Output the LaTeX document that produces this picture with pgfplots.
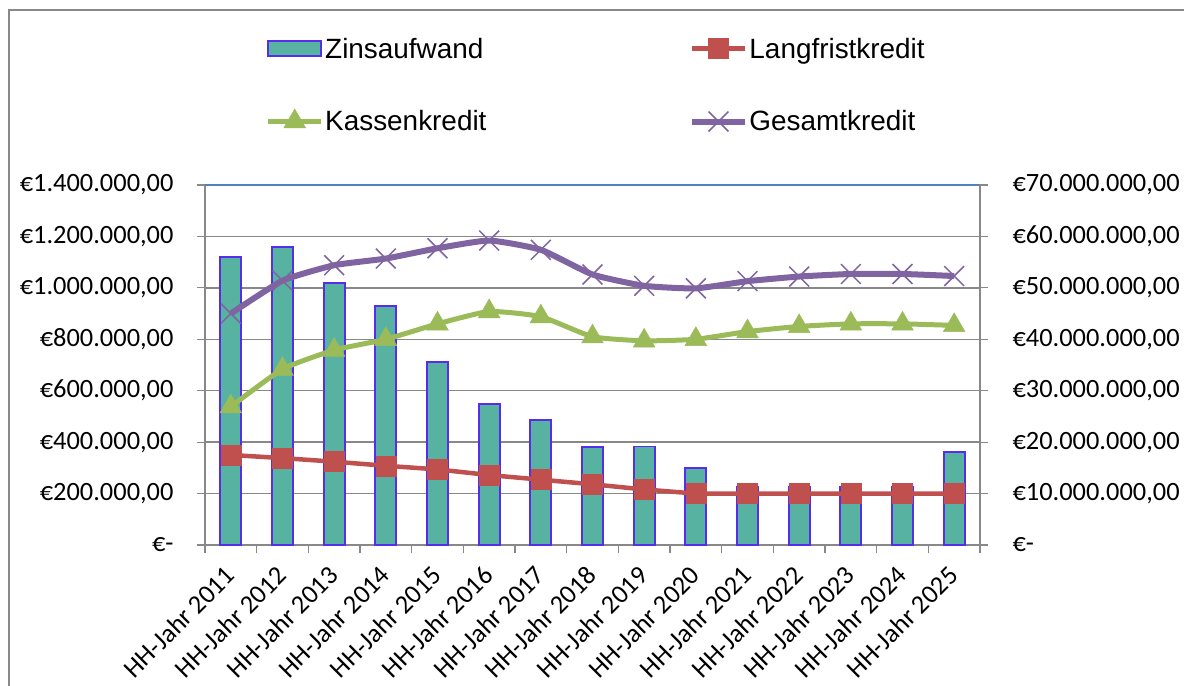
\documentclass[border=0pt]{standalone}
\usepackage{pgfplots}
\usepackage{pgfplotstable}
\pgfplotsset{compat=1.18}
\usepackage{fontspec}
\setmainfont{Liberation Sans}
\newfontfamily\calibri{Carlito}

\definecolor{barfill}{RGB}{87,178,162}
\definecolor{baredge}{RGB}{85,45,235}
\definecolor{lred}{RGB}{192,80,77}
\definecolor{lgreen}{RGB}{155,187,89}
\definecolor{lpurple}{RGB}{128,100,162}
\definecolor{gridgray}{RGB}{136,136,136}
\definecolor{topblue}{RGB}{79,129,189}

\pgfplotsset{
  barlegend/.style={legend image code/.code={\draw[##1] (0bp,-7.5bp) rectangle (53bp,7.5bp);}},
  linelegend/.style={legend image code/.code={\draw[mark repeat=2,mark phase=2,##1] plot coordinates {(0bp,0bp) (26.5bp,0bp) (53bp,0bp)};}},
}

\pgfplotstableread{
x zins lang kassen gesamt
0 1120000 17500000 26900000 45000000
1 1158000 16900000 34200000 51400000
2 1019000 16200000 37900000 54400000
3 929000 15400000 40000000 55700000
4 712000 14700000 43000000 57700000
5 548000 13600000 45400000 59200000
6 486000 12700000 44400000 57400000
7 381000 11800000 40500000 52600000
8 383000 10800000 39700000 50400000
9 298000 10000000 40000000 49900000
10 227000 10000000 41500000 51300000
11 225000 10000000 42500000 52200000
12 225000 10000000 43000000 52700000
13 225000 10000000 43000000 52700000
14 363000 10000000 42700000 52300000
}\datatable

\begin{document}
\begin{tikzpicture}
\useasboundingbox (0bp,0bp) rectangle (1184bp,686bp);
\draw[gridgray, line width=2bp] (9bp,0bp) -- (9bp,676bp) -- (1184bp,676bp);

\begin{axis}[
  at={(205bp,141bp)}, anchor=south west,
  scale only axis, width=775bp, height=360bp,
  xmin=-0.5, xmax=14.5, ymin=0, ymax=1400000,
  scaled y ticks=false,
  axis y line*=left, axis x line*=bottom,
  axis line style={gridgray, line width=1.5bp},
  tick style={gridgray, line width=1.2bp},
  tick align=outside, major tick length=8bp,
  xtick={-0.5,0.5,...,14.5},
  x tick label as interval,
  xticklabels={HH-Jahr 2011,HH-Jahr 2012,HH-Jahr 2013,HH-Jahr 2014,HH-Jahr 2015,HH-Jahr 2016,HH-Jahr 2017,HH-Jahr 2018,HH-Jahr 2019,HH-Jahr 2020,HH-Jahr 2021,HH-Jahr 2022,HH-Jahr 2023,HH-Jahr 2024,HH-Jahr 2025},
  xticklabel style={rotate=45, anchor=east, inner sep=1bp},
  xticklabel shift=17bp,
  yticklabel shift=20bp,
  ytick={0,200000,400000,600000,800000,1000000,1200000,1400000},
  yticklabels={€-,€200.000{,}00,€400.000{,}00,€600.000{,}00,€800.000{,}00,€1.000.000{,}00,€1.200.000{,}00,€1.400.000{,}00},
  tick label style={font=\calibri\fontsize{26.5}{30}\selectfont},
  ymajorgrids, grid style={gridgray, line width=1.5bp},
  clip=false,
]
\addplot[ybar, bar width=21bp, fill=barfill, draw=baredge, line width=1.8bp] table[x=x, y=zins] {\datatable};
\draw[topblue, line width=1.5bp] (rel axis cs:0,1) -- (rel axis cs:1,1);
\end{axis}

\begin{axis}[
  at={(205bp,141bp)}, anchor=south west,
  scale only axis, width=775bp, height=360bp,
  xmin=-0.5, xmax=14.5, ymin=0, ymax=70000000,
  scaled y ticks=false,
  axis x line=none, axis y line*=right,
  axis line style={gridgray, line width=1.5bp},
  tick style={gridgray, line width=1.2bp},
  tick align=outside, major tick length=8bp,
  ytick={0,10000000,20000000,30000000,40000000,50000000,60000000,70000000},
  yticklabels={€-,€10.000.000{,}00,€20.000.000{,}00,€30.000.000{,}00,€40.000.000{,}00,€50.000.000{,}00,€60.000.000{,}00,€70.000.000{,}00},
  tick label style={font=\calibri\fontsize{26.5}{30}\selectfont},
  yticklabel style={anchor=west},
  yticklabel shift=21bp,
  clip=false,
  legend columns=2,
  legend cell align=left,
  legend style={at={(0.0781,1.4136)}, anchor=north west, draw=none, fill=none,
    inner sep=0pt, font=\fontsize{28}{32}\selectfont,
    nodes={inner sep=1.5bp},
    row sep=48bp,
    /tikz/every even column/.append style={column sep=201bp}},
  linelegend,
]
\addlegendimage{fill=barfill, draw=baredge, line width=1.8bp, barlegend}
\addlegendentry{Zinsaufwand}
\addplot[lred, line width=4.5bp, mark=square*, mark size=10bp, mark options={solid, fill=lred, draw=lred, line width=0.5bp}] table[x=x, y=lang] {\datatable};
\addlegendentry{Langfristkredit}
\addplot[lgreen, line width=5bp, smooth, tension=0.3, mark=triangle*, mark size=12.5bp, mark options={solid, fill=lgreen, draw=lgreen, line width=0.5bp}] table[x=x, y=kassen] {\datatable};
\addlegendentry{Kassenkredit}
\addplot[lpurple, line width=6bp, smooth, tension=0.3, mark=x, mark size=14bp, mark options={solid, line width=1.5bp}] table[x=x, y=gesamt] {\datatable};
\addlegendentry{Gesamtkredit}
\end{axis}
\end{tikzpicture}
\end{document}
